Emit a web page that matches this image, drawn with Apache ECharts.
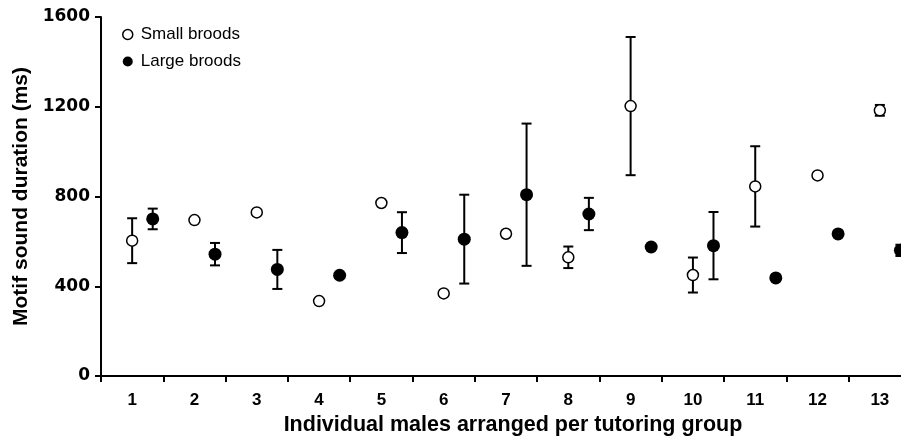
<!DOCTYPE html>
<html>
<head>
<meta charset="utf-8">
<script src="https://cdn.jsdelivr.net/npm/echarts@6/dist/echarts.min.js"></script>
<style>
  html, body { margin: 0; padding: 0; background: #fff; }
  #chart { width: 901px; height: 442px; }
</style>
</head>
<body>
<div id="chart"></div>
<script>
// Tutoring groups along the x axis
const groups = ['1', '2', '3', '4', '5', '6', '7', '8', '9', '10', '11', '12', '13'];

// Mean motif sound duration (ms) and error (ms) per group
const smallMean = [603, 695, 729, 334, 771, 368, 634, 529, 1203, 450, 845, 894, 1184];
const smallErr  = [100, 0, 0, 0, 0, 0, 0, 48, 308, 78, 179, 0, 24];
const largeMean = [700, 543, 475, 449, 639, 610, 808, 722, 575, 581, 437, 633, 560];
const largeErr  = [46, 50, 87, 0, 91, 198, 317, 72, 12, 150, 0, 10, 25];

const yTicks = [0, 400, 800, 1200, 1600];

// Horizontal placement within each group band
const DODGE = 0.33;
const FONT = '"Liberation Sans", Arial, sans-serif';
const TICK_FONT = '"DejaVu Sans", sans-serif';

function points(means, shift) {
  return means.map((v, i) => [i + 1 + shift, v]);
}
function bars(means, errs, shift) {
  return means.map((v, i) => [i + 1 + shift, v - errs[i], v + errs[i], errs[i]]);
}

function renderErrorBar(params, api) {
  if (!api.value(3)) return null;
  const x = api.value(0);
  const lo = api.coord([x, api.value(1)]);
  const hi = api.coord([x, api.value(2)]);
  const cap = 5;
  const style = { stroke: '#000', lineWidth: 2 };
  return {
    type: 'group',
    children: [
      { type: 'line', shape: { x1: lo[0], y1: lo[1], x2: hi[0], y2: hi[1] }, style },
      { type: 'line', shape: { x1: hi[0] - cap, y1: hi[1], x2: hi[0] + cap, y2: hi[1] }, style },
      { type: 'line', shape: { x1: lo[0] - cap, y1: lo[1], x2: lo[0] + cap, y2: lo[1] }, style }
    ]
  };
}

const chart = echarts.init(document.getElementById('chart'), null, { renderer: 'canvas' });

chart.setOption({
  animation: false,
  backgroundColor: '#fff',
  // the plot runs slightly past the right edge of the canvas
  grid: { left: 101, top: 17, bottom: 66, width: 810, containLabel: false, outerBoundsMode: 'none' },
  legend: {
    orient: 'vertical',
    left: 117,
    top: 21,
    itemGap: 10,
    itemWidth: 10,
    itemHeight: 10,
    textStyle: { fontFamily: FONT, fontSize: 17, color: '#000', padding: [0, 0, 0, 3] },
    data: [
      { name: 'Small broods', icon: 'circle', itemStyle: { color: '#fff', borderColor: '#000', borderWidth: 1.5 } },
      { name: 'Large broods', icon: 'circle', itemStyle: { color: '#000' } }
    ]
  },
  xAxis: [
    {
      type: 'category',
      data: groups,
      boundaryGap: true,
      name: 'Individual males arranged per tutoring group',
      nameLocation: 'middle',
      nameGap: 33,
      nameTextStyle: { fontFamily: FONT, fontSize: 21.5, fontWeight: 'bold', color: '#000', padding: [0, 0, 0, 14] },
      axisLine: { lineStyle: { color: '#000', width: 2 } },
      axisTick: { show: true, inside: false, length: 6, alignWithLabel: false, lineStyle: { color: '#000', width: 2 } },
      axisLabel: { fontFamily: FONT, fontSize: 17, fontWeight: 'bold', color: '#000', margin: 16 },
      splitLine: { show: false }
    },
    {
      type: 'value',
      min: 0.5,
      max: 13.5,
      show: false
    }
  ],
  yAxis: {
    type: 'value',
    min: yTicks[0],
    max: yTicks[yTicks.length - 1],
    interval: yTicks[1] - yTicks[0],
    name: 'Motif sound duration (ms)',
    nameLocation: 'middle',
    nameGap: 68,
    nameTextStyle: { fontFamily: FONT, fontSize: 21, fontWeight: 'bold', color: '#000' },
    axisLine: { show: true, lineStyle: { color: '#000', width: 2 } },
    axisTick: { show: true, inside: false, length: 6, lineStyle: { color: '#000', width: 2 } },
    axisLabel: {
      fontFamily: TICK_FONT, fontSize: 17, fontWeight: 'bold', color: '#000', margin: 11,
      formatter: v => String(v)
    },
    splitLine: { show: false }
  },
  series: [
    {
      name: 'smallErr',
      type: 'custom',
      xAxisIndex: 1,
      renderItem: renderErrorBar,
      data: bars(smallMean, smallErr, 0),
      z: 1
    },
    {
      name: 'largeErr',
      type: 'custom',
      xAxisIndex: 1,
      renderItem: renderErrorBar,
      data: bars(largeMean, largeErr, DODGE),
      z: 1
    },
    {
      name: 'Small broods',
      type: 'scatter',
      xAxisIndex: 1,
      symbol: 'circle',
      symbolSize: 11,
      itemStyle: { color: '#fff', borderColor: '#000', borderWidth: 1.5, opacity: 1 },
      data: points(smallMean, 0),
      z: 3
    },
    {
      name: 'Large broods',
      type: 'scatter',
      xAxisIndex: 1,
      symbol: 'circle',
      symbolSize: 13,
      itemStyle: { color: '#000', opacity: 1 },
      data: points(largeMean, DODGE),
      z: 3
    }
  ]
});
</script>
</body>
</html>
